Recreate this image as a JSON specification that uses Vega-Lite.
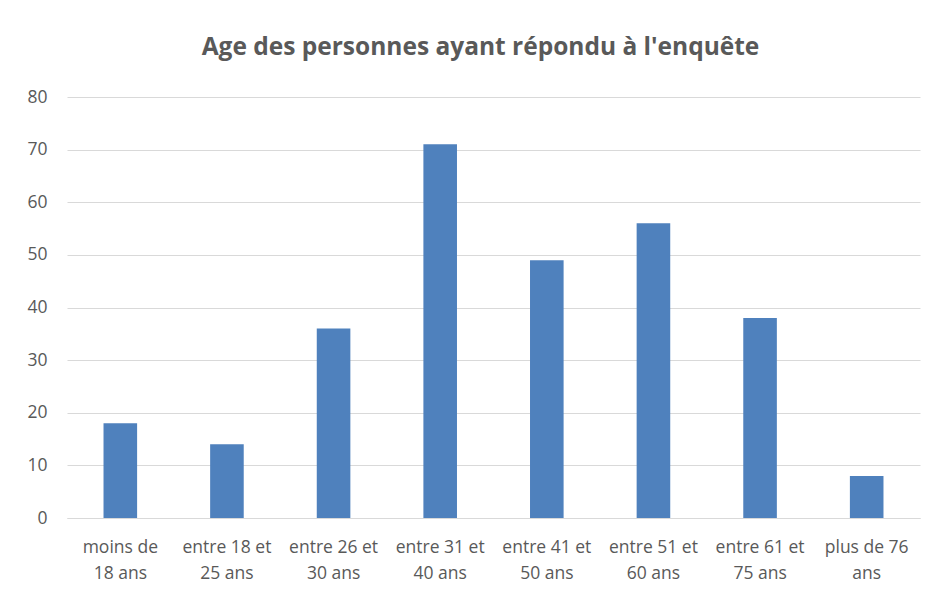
{
  "$schema": "https://vega.github.io/schema/vega-lite/v6.json",
  "autosize": {"type": "none"},
  "width": 853,
  "height": 421,
  "padding": {"left": 67, "top": 97, "right": 15, "bottom": 79},
  "background": "white",
  "title": {
    "text": "Age des  personnes ayant répondu à l'enquête",
    "font": "Open Sans",
    "fontSize": 24.5,
    "fontWeight": "bold",
    "color": "#595959",
    "anchor": "middle",
    "dx": -13,
    "offset": 28
  },
  "data": {
    "values": [
      {"age": "moins de\n18 ans", "n": 18},
      {"age": "entre 18 et\n25 ans", "n": 14},
      {"age": "entre 26 et\n30 ans", "n": 36},
      {"age": "entre 31 et\n40 ans", "n": 71},
      {"age": "entre 41 et\n50 ans", "n": 49},
      {"age": "entre 51 et\n60 ans", "n": 56},
      {"age": "entre 61 et\n75 ans", "n": 38},
      {"age": "plus de 76\nans", "n": 8}
    ]
  },
  "mark": {"type": "bar", "color": "#4f81bd"},
  "encoding": {
    "x": {
      "field": "age",
      "type": "nominal",
      "sort": null,
      "scale": {"paddingInner": 0.685, "paddingOuter": 0.3425},
      "axis": {
        "title": null,
        "labelAngle": 0,
        "labelExpr": "split(datum.value, '\\n')",
        "labelFont": "Open Sans",
        "labelFontSize": 17.5,
        "labelColor": "#595959",
        "labelPadding": 20,
        "labelLineHeight": 26,
        "labelLimit": 200,
        "labelOverlap": false,
        "ticks": false,
        "domainColor": "#d9d9d9",
        "domainWidth": 1
      }
    },
    "y": {
      "field": "n",
      "type": "quantitative",
      "scale": {"domain": [0, 80]},
      "axis": {
        "title": null,
        "values": [0, 10, 20, 30, 40, 50, 60, 70, 80],
        "labelOverlap": false,
        "labelFont": "Open Sans",
        "labelFontSize": 17.5,
        "labelColor": "#595959",
        "labelPadding": 20,
        "ticks": false,
        "domain": false,
        "gridColor": "#d9d9d9",
        "gridWidth": 1
      }
    }
  },
  "config": {"view": {"stroke": null}}
}
